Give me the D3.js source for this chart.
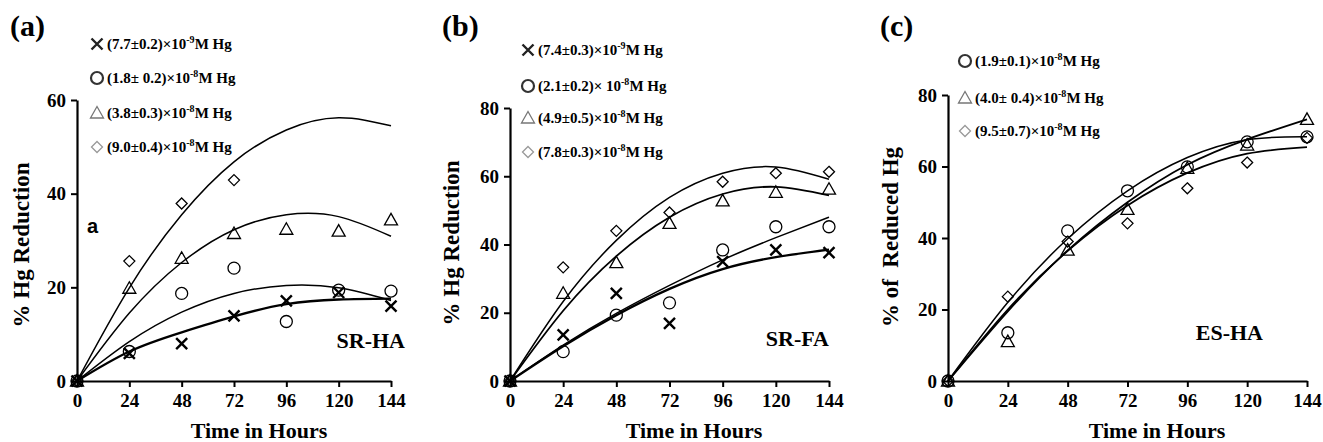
<!DOCTYPE html>
<html>
<head>
<meta charset="utf-8">
<script src="https://cdn.jsdelivr.net/npm/d3@7"></script>
<style>
  body { margin: 0; background: #fff; }
  svg { display: block; }
  text { font-family: "Liberation Serif", "Times New Roman", serif; font-weight: bold; fill: #000; }
</style>
</head>
<body>
<div id="charts"></div>
<script>
// sampling times (hours) and tick labels
var hours = [0, 24, 48, 72, 96, 120, 144];
var aYTicks = [0, 20, 40, 60];
var bYTicks = [0, 20, 40, 60, 80];
var cYTicks = [0, 20, 40, 60, 80];

// (a) SR-HA
var aCross    = [0, 5.9, 8.0, 13.9, 17.1, 18.9, 16.0];
var aCircle   = [0, 6.3, 18.7, 24.1, 12.7, 19.4, 19.2];
var aTriangle = [0, 19.8, 26.2, 31.5, 32.4, 32.0, 34.4];
var aDiamond  = [0, 25.6, 37.9, 42.9];
var aCrossFit    = [0, 6.3, 10.4, 13.8, 16.4, 17.4, 17.6];
var aCircleFit   = [0, 8.4, 14.7, 18.7, 20.4, 19.9, 17.2];
var aTriangleFit = [0, 14.5, 25.3, 32.3, 35.5, 35.1, 30.9];
var aDiamondFit  = [0, 19.9, 35.5, 46.8, 53.6, 56.2, 54.5];
var aLegend = [["(7.7±0.2)×10", "-9", "M Hg"], ["(1.8± 0.2)×10", "-8", "M Hg"],
               ["(3.8±0.3)×10", "-8", "M Hg"], ["(9.0±0.4)×10", "-8", "M Hg"]];

// (b) SR-FA
var bCross    = [0, 13.5, 25.7, 16.9, 35.0, 38.4, 37.6];
var bCircle   = [0, 8.6, 19.3, 22.9, 38.4, 45.2, 45.2];
var bTriangle = [0, 25.7, 34.7, 46.2, 52.8, 55.3, 56.2];
var bDiamond  = [0, 33.3, 44.0, 49.4, 58.4, 60.9, 61.3];
var bCrossFit    = [0, 10.2, 19.3, 27.0, 32.8, 36.3, 38.5];
var bCircleFit   = [0, 10.5, 19.8, 28.0, 35.5, 42.0, 48.0];
var bTriangleFit = [0, 20.6, 36.6, 48.0, 54.8, 56.9, 54.4];
var bDiamondFit  = [0, 23.3, 41.2, 53.8, 60.9, 62.7, 59.1];
var bLegend = [["(7.4±0.3)×10", "-9", "M Hg"], ["(2.1±0.2)× 10", "-8", "M Hg"],
               ["(4.9±0.5)×10", "-8", "M Hg"], ["(7.8±0.3)×10", "-8", "M Hg"]];

// (c) ES-HA
var cCircle   = [0, 13.5, 42.0, 53.2, 59.9, 66.9, 68.3];
var cTriangle = [0, 11.0, 36.6, 48.0, 59.5, 66.0, 73.2];
var cDiamond  = [0, 23.6, 39.0, 44.1, 53.9, 61.1, 68.0];
var cCircleFit   = [0, 22.0, 39.8, 53.2, 62.5, 67.5, 68.3];
var cTriangleFit = [0, 19.5, 36.5, 50.0, 60.5, 67.6, 73.2];
var cDiamondFit  = [0, 20.0, 36.4, 49.1, 58.2, 63.6, 65.4];
var cLegend = [["(1.9±0.1)×10", "-8", "M Hg"], ["(4.0± 0.4)×10", "-8", "M Hg"],
               ["(9.5±0.7)×10", "-8", "M Hg"]];

var svg = d3.select("#charts").append("svg")
    .attr("width", 1323)
    .attr("height", 442);

function drawMarker(g, type, x, y, legend)
{
    var col = "#000";
    if (legend) col = {cross: "#222", circle: "#333", triangle: "#777", diamond: "#999"}[type];
    if (type == "cross") {
        g.append("path")
          .attr("d", "M" + (x - 5.5) + "," + (y - 5.5) + "L" + (x + 5.5) + "," + (y + 5.5) +
                     "M" + (x + 5.5) + "," + (y - 5.5) + "L" + (x - 5.5) + "," + (y + 5.5))
          .style("stroke", col).style("stroke-width", 2.4).style("fill", "none");
    } else if (type == "circle") {
        g.append("circle").attr("cx", x).attr("cy", y).attr("r", 6)
          .style("stroke", col).style("stroke-width", legend ? 2.2 : 1.3).style("fill", "none");
    } else if (type == "triangle") {
        g.append("path")
          .attr("d", "M" + x + "," + (y - 6.5) + "L" + (x + 6.5) + "," + (y + 5) + "L" + (x - 6.5) + "," + (y + 5) + "Z")
          .style("stroke", col).style("stroke-width", 1.3).style("fill", "none");
    } else {
        g.append("path")
          .attr("d", "M" + x + "," + (y - 5.5) + "L" + (x + 5.5) + "," + y + "L" + x + "," + (y + 5.5) + "L" + (x - 5.5) + "," + y + "Z")
          .style("stroke", col).style("stroke-width", 1.3).style("fill", "none");
    }
}

function createPanel(p)
{
    var x = d3.scaleLinear().domain([0, 144]).range([p.left, p.right]);
    var y = d3.scaleLinear().domain([0, p.yTicks[p.yTicks.length - 1]]).range([381, p.top]);
    var g = svg.append("g");

    // axes
    var xa = g.append("g")
      .attr("transform", "translate(0,381)")
      .call(d3.axisBottom(x).tickValues(hours).tickSize(6).tickSizeOuter(0).tickPadding(7));
    var ya = g.append("g")
      .attr("transform", "translate(" + p.left + ",0)")
      .call(d3.axisLeft(y).tickValues(p.yTicks).tickSize(6).tickSizeOuter(0).tickPadding(5));
    [xa, ya].forEach(a => {
        a.select(".domain").style("stroke", "#000").style("stroke-width", 2.2);
        a.selectAll(".tick line").style("stroke", "#000").style("stroke-width", 2);
        a.selectAll(".tick text")
          .style("font-family", "'Liberation Serif', serif")
          .style("font-weight", "bold").style("font-size", "19px").style("fill", "#000");
    });

    // fitted curves
    var line = d3.line()
      .x((d, i) => { return x(hours[i]); })
      .y(d => { return y(d); })
      .curve(d3.curveNatural);
    p.fits.forEach(f => {
        g.append("path")
          .data([f.values])
          .attr("d", line)
          .style("fill", "none").style("stroke", "#000")
          .style("stroke-width", f.width || 1.5);
    });

    // data markers
    p.series.forEach(s => {
        s.values.forEach((v, i) => { drawMarker(g, s.type, x(hours[i]), y(v), false); });
    });

    // legend
    p.legend.forEach((lab, i) => {
        var ly = p.legendY[i];
        drawMarker(g, p.series[i + p.legendOffset].type, p.legendX, ly, true);
        var t = g.append("text")
          .attr("x", p.legendX + 10).attr("y", ly + 5)
          .style("font-size", "15px");
        t.append("tspan").text(lab[0]);
        t.append("tspan").attr("dy", -6).style("font-size", "10px").text(lab[1]);
        t.append("tspan").attr("dy", 6).text(lab[2]);
    });

    // labels
    g.append("text").attr("x", p.tagX).attr("y", 36).style("font-size", "30px").text(p.tag);
    g.append("text")
      .attr("transform", "translate(" + p.yLabelX + "," + p.yLabelY + ") rotate(-90)")
      .attr("text-anchor", "middle")
      .style("font-size", "23px").style("white-space", "pre")
      .text(p.yLabel);
    g.append("text")
      .attr("x", p.xLabelX).attr("y", 438)
      .attr("text-anchor", "middle")
      .style("font-size", "22px")
      .text("Time in Hours");
    g.append("text")
      .attr("x", p.nameX).attr("y", p.nameY)
      .attr("text-anchor", "end")
      .style("font-size", "22px")
      .text(p.name);
}

createPanel({
    left: 77, right: 391, top: 100, yTicks: aYTicks,
    fits: [{values: aDiamondFit}, {values: aTriangleFit}, {values: aCircleFit}, {values: aCrossFit, width: 2.3}],
    series: [{type: "cross", values: aCross}, {type: "circle", values: aCircle},
             {type: "triangle", values: aTriangle}, {type: "diamond", values: aDiamond}],
    legend: aLegend, legendOffset: 0, legendX: 97, legendY: [44, 78, 113, 147],
    tag: "(a)", tagX: 10, yLabel: "% Hg Reduction", yLabelX: 29, yLabelY: 245,
    xLabelX: 259, name: "SR-HA", nameX: 405, nameY: 348
});

createPanel({
    left: 510, right: 829, top: 108, yTicks: bYTicks,
    fits: [{values: bDiamondFit}, {values: bTriangleFit, width: 1.8}, {values: bCircleFit}, {values: bCrossFit, width: 2.3}],
    series: [{type: "cross", values: bCross}, {type: "circle", values: bCircle},
             {type: "triangle", values: bTriangle}, {type: "diamond", values: bDiamond}],
    legend: bLegend, legendOffset: 0, legendX: 528, legendY: [50, 86, 118, 152],
    tag: "(b)", tagX: 442, yLabel: "% Hg Reduction", yLabelX: 459, yLabelY: 243,
    xLabelX: 694, name: "SR-FA", nameX: 829, nameY: 346
});

createPanel({
    left: 948, right: 1307, top: 95, yTicks: cYTicks,
    fits: [{values: cCircleFit}, {values: cTriangleFit, width: 1.8}, {values: cDiamondFit, width: 1.8}],
    series: [{type: "circle", values: cCircle}, {type: "triangle", values: cTriangle},
             {type: "diamond", values: cDiamond}],
    legend: cLegend, legendOffset: 0, legendX: 965, legendY: [61, 98, 131],
    tag: "(c)", tagX: 880, yLabel: "% of  Reduced Hg", yLabelX: 898, yLabelY: 237,
    xLabelX: 1157, name: "ES-HA", nameX: 1263, nameY: 340
});

// small sans-serif "a" annotation inside panel (a)
svg.append("text")
  .attr("x", 87).attr("y", 233)
  .style("font-family", "'Liberation Sans', Arial, sans-serif")
  .style("font-size", "20px")
  .text("a");
</script>
</body>
</html>
